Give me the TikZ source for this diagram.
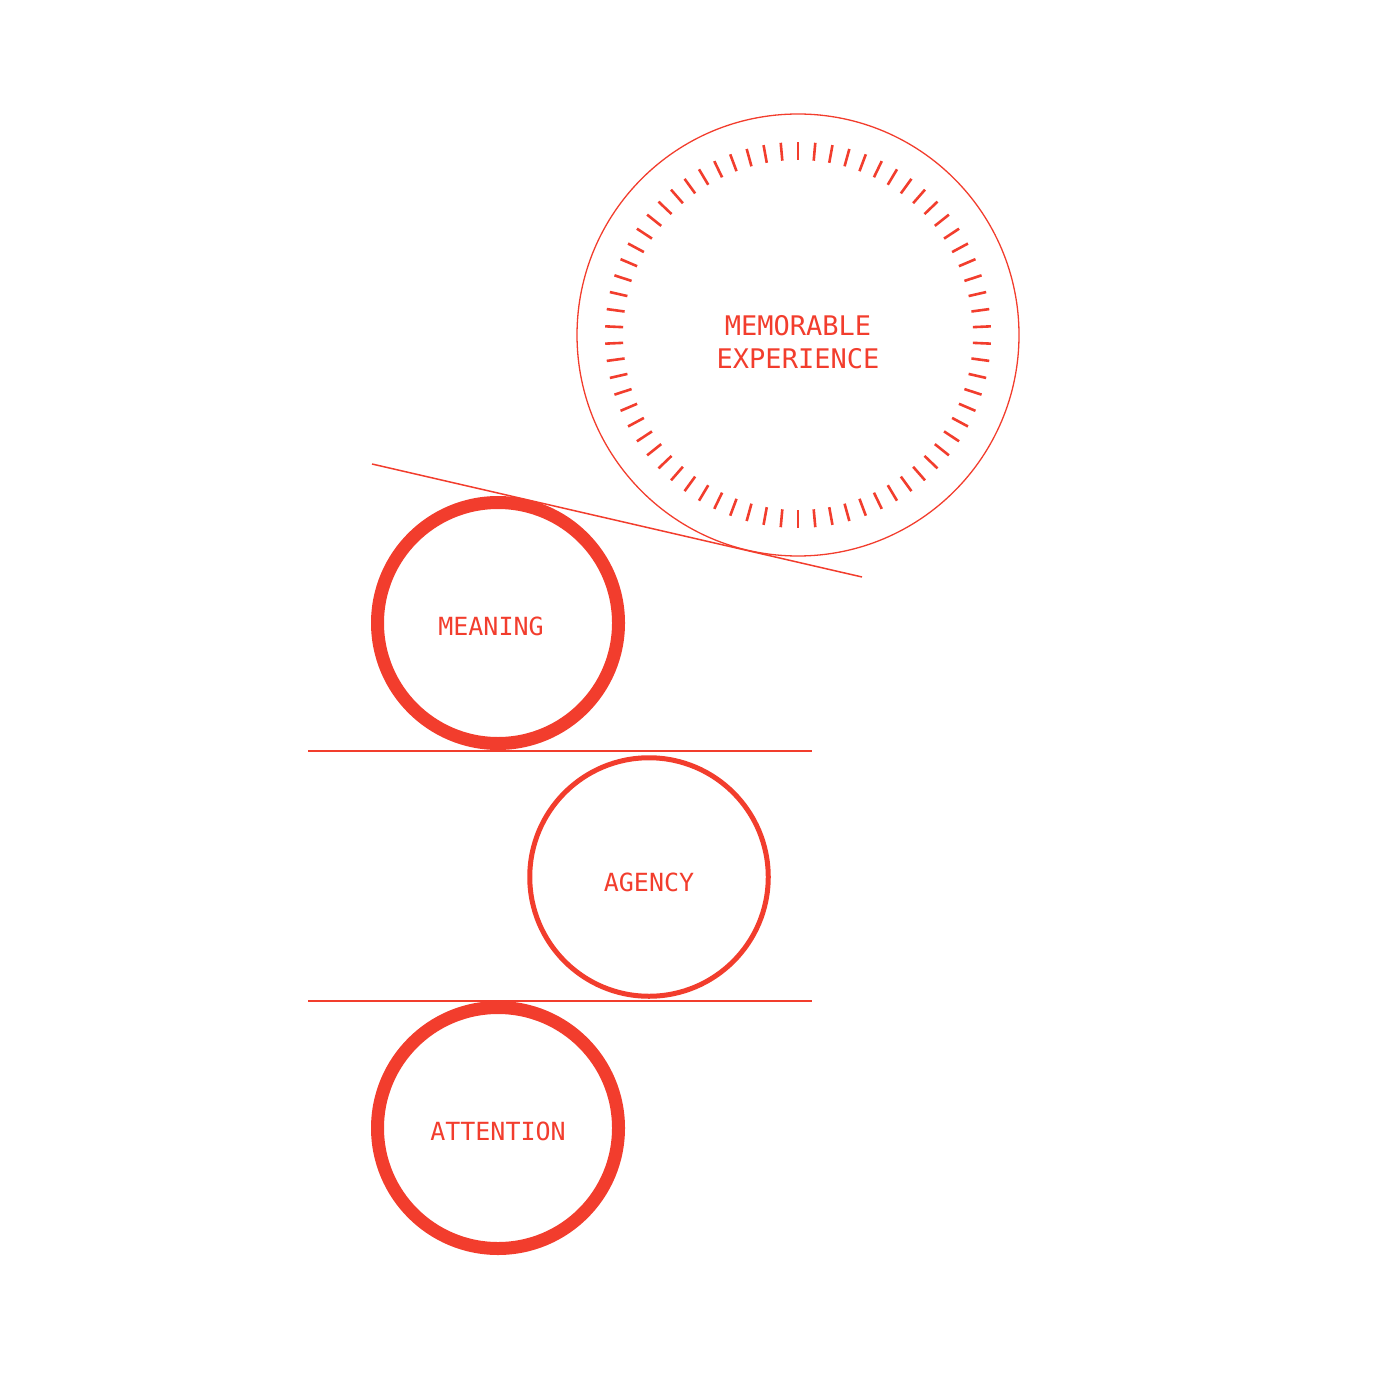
\documentclass[tikz,border=0pt]{standalone}
\usepackage{fontspec}
\setmonofont{DejaVu Sans Mono}
\usepackage{tikz}
\usetikzlibrary{calc}
\definecolor{signal}{RGB}{242,61,45}

\begin{document}
\begin{tikzpicture}[
            x = 0.5pt, y = -0.5pt, % one unit is one pixel of the sketch
            signal, % everything in red
            font = \ttfamily\fontsize{12.5}{15}\selectfont
        ]

        \tikzstyle{ring}=[
            circle,
            draw = signal,
            inner sep = 0pt
        ]
        \tikzstyle{heavy ring}=[ring, line width = 6.5pt, minimum size = 120.5pt]
        \tikzstyle{caption}=[text = signal, align = center, yshift = -1.5pt]
        \tikzstyle{guide}=[draw = signal, line width = 0.75pt]
        \tikzstyle{tick}=[draw = signal, line width = 1.3pt]

        \useasboundingbox (0,0) rectangle (1400,1400);

        \node[ring, line width = 0.65pt, minimum size = 221pt,
              label = {[caption, yshift = -2pt, font = \ttfamily\fontsize{13.5}{16.5}\selectfont]center:MEMORABLE\\EXPERIENCE}]
              (memorable) at (798,335) {};
        \node[heavy ring, label = {[caption, xshift = -3.5pt]center:MEANING}] (meaning) at (498,623) {};
        \node[ring, line width = 2.5pt, minimum size = 119.25pt,
              label = {[caption, yshift = -1pt]center:AGENCY}] (agency) at (649,877) {};
        \node[heavy ring, label = {[caption]center:ATTENTION}] (attention) at (498,1128) {};

        % dial marks inside the big circle
        \foreach \k [evaluate = \k as \a using 90+\k*36/7] in {0,...,69}
            \draw[tick] ($(memorable.center)+(\a:175)$) -- ($(memorable.center)+(\a:193)$);

        % tangent and baselines
        \coordinate (t1) at (372,464);
        \coordinate (t2) at (862,577);
        \draw[guide] (t1) -- (t2);

        \coordinate (l1) at (308,751);
        \coordinate (r1) at (812,751);
        \draw[guide] (l1) -- (r1);

        \coordinate (l2) at (308,1001);
        \coordinate (r2) at (812,1001);
        \draw[guide] (l2) -- (r2);

\end{tikzpicture}
\end{document}
